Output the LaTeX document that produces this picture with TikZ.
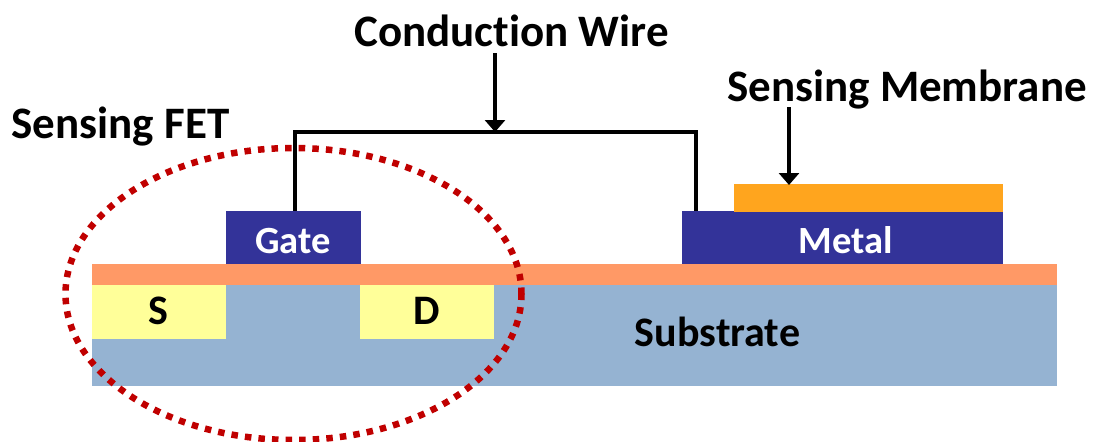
\documentclass[tikz,border=0pt]{standalone}
\usepackage{fontspec}
\setmainfont[Ligatures=NoCommon]{Carlito}
\usetikzlibrary{arrows.meta}
\definecolor{subst}{HTML}{95B3D2}
\definecolor{oxide}{HTML}{FF9966}
\definecolor{dope}{HTML}{FFFF99}
\definecolor{metal}{HTML}{333399}
\definecolor{memb}{HTML}{FFA51E}
\definecolor{ring}{HTML}{C00000}
\tikzset{
  layer/.style={inner sep=0pt,outer sep=0pt,anchor=north west},
  biglabel/.style={font=\fontsize{45}{45}\selectfont\bfseries,anchor=base,inner sep=0pt},
  smalllabel/.style={font=\fontsize{38.5}{38.5}\selectfont\bfseries,anchor=base,inner sep=0pt},
  sublabel/.style={font=\fontsize{42}{42}\selectfont\bfseries,anchor=base,inner sep=0pt},
  wire/.style={line width=4pt,black,line join=miter},
  pointer/.style={line width=3.5pt,black,-{Triangle[width=20pt,length=12pt]},shorten >=0pt},
}
\begin{document}
\begin{tikzpicture}[x=1pt,y=-1pt]
\useasboundingbox (0,0) rectangle (1096,442);
\node[layer,fill=subst,minimum width=965pt,minimum height=101pt] (substrate) at (92,285) {};
\node[layer,fill=oxide,minimum width=965pt,minimum height=21pt] (oxide) at (92,264) {};
\node[layer,fill=dope,minimum width=134pt,minimum height=54pt] (source) at (92,285) {};
\node[layer,fill=dope,minimum width=134pt,minimum height=54pt] (drain) at (360,285) {};
\node[layer,fill=metal,minimum width=135pt,minimum height=53pt] (gate) at (226,211) {};
\node[layer,fill=metal,minimum width=321pt,minimum height=53pt] (metal) at (682,211) {};
\node[layer,fill=memb,minimum width=269pt,minimum height=28pt] (membrane) at (734,184) {};
\coordinate (gw) at (295,132);
\coordinate (mw) at (696,132);
\coordinate (gb) at (295,211);
\coordinate (mb) at (696,211);
\draw[wire] (gb) -- (gw) -- (mw) -- (mb);
\node[biglabel] (cw) at (511.5,46) {Conduction Wire};
\node[biglabel] (sm) at (907,101) {Sensing Membrane};
\node[biglabel] (sf) at (120.5,138) {Sensing FET};
\node[smalllabel,white] (gt) at (293,253) {Gate};
\node[smalllabel,white] (mt) at (845.5,253) {Metal};
\node[sublabel] (st) at (158,324) {S};
\node[sublabel] (dt) at (427,324) {D};
\node[sublabel] (sb) at (717.5,346) {Substrate};
\coordinate (cwa) at (495,53);
\coordinate (cwb) at (495,132);
\coordinate (sma) at (789,107);
\coordinate (smb) at (789,185);
\draw[pointer] (cwa) -- (cwb);
\draw[pointer] (sma) -- (smb);
\draw[ring,line width=6.5pt,dash pattern=on 6.5pt off 7.1pt] (293.5,294) ellipse [x radius=228pt,y radius=146pt];
\end{tikzpicture}
\end{document}
